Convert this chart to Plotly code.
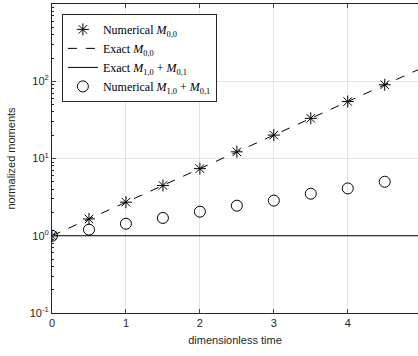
import plotly.graph_objects as go

t_num = [0, 0.5, 1, 1.5, 2, 2.5, 3, 3.5, 4, 4.5]
m00_num = [1.0, 1.65, 2.72, 4.48, 7.39, 12.2, 20.1, 33.1, 54.6, 90.0]
t_exact = [0, 0.5, 1, 1.5, 2, 2.5, 3, 3.5, 4, 4.5, 4.95]
m00_exact = [1.0, 1.65, 2.72, 4.48, 7.39, 12.2, 20.1, 33.1, 54.6, 90.0, 141.0]
sum_exact_t = [0, 4.95]
sum_exact = [1.0, 1.0]
sum_num = [1.0, 1.2, 1.43, 1.7, 2.05, 2.45, 2.85, 3.5, 4.1, 5.0]

ytickvals = [0.1, 1, 10, 100, 1000]
yticktext = ["10<sup>-1</sup>", "10<sup>0</sup>", "10<sup>1</sup>", "10<sup>2</sup>", "10<sup>3</sup>"]
xtickvals = [0, 1, 2, 3, 4]

M = "<i>M</i>"

fig = go.Figure()
fig.add_trace(go.Scatter(x=t_exact, y=m00_exact, mode="lines",
                         line=dict(color="black", width=1, dash="dash"),
                         name="Exact " + M + "<sub>0,0</sub>", legendrank=2))
fig.add_trace(go.Scatter(x=sum_exact_t, y=sum_exact, mode="lines",
                         line=dict(color="black", width=1),
                         name="Exact " + M + "<sub>1,0</sub> + " + M + "<sub>0,1</sub>", legendrank=3))
fig.add_trace(go.Scatter(x=t_num, y=m00_num, mode="markers",
                         marker=dict(symbol="asterisk-open", size=10, color="black", line=dict(width=1, color="black")),
                         name="Numerical " + M + "<sub>0,0</sub>", legendrank=1))
fig.add_trace(go.Scatter(x=t_num, y=sum_num, mode="markers",
                         marker=dict(symbol="circle-open", size=11, color="black", line=dict(width=1, color="black")),
                         name="Numerical " + M + "<sub>1,0</sub> + " + M + "<sub>0,1</sub>", legendrank=4))

axcol = "#262626"
fig.update_layout(
    width=418, height=356,
    margin=dict(l=52, r=0, t=4, b=43),
    plot_bgcolor="white", paper_bgcolor="white",
    font=dict(family="Liberation Sans, Arial, sans-serif", size=11, color=axcol),
    showlegend=True,
    legend=dict(x=0.027, y=0.968, xanchor="left", yanchor="top",
                bgcolor="white", bordercolor=axcol, borderwidth=1,
                font=dict(family="Liberation Serif, Times New Roman, serif", size=12, color="black"),
                tracegroupgap=0, itemwidth=30),
    xaxis=dict(range=[0, 4.95], tickvals=xtickvals, ticks="inside", ticklen=4,
               showline=True, linecolor=axcol, linewidth=1, mirror="ticks",
               showgrid=True, gridcolor="#e3e3e3", gridwidth=1, zeroline=False,
               title=dict(text="dimensionless time", font=dict(size=11), standoff=8)),
    yaxis=dict(type="log", range=[-1, 3], tickvals=ytickvals, ticktext=yticktext,
               ticks="inside", ticklen=4, showline=True, linecolor=axcol, linewidth=1,
               showgrid=True, gridcolor="#e3e3e3", gridwidth=1, zeroline=False,
               minor=dict(ticks="inside", ticklen=2, dtick="D1", showgrid=False, tickcolor=axcol),
               title=dict(text="normalized moments", font=dict(size=11), standoff=11)),
)

fig.write_html("out.html")
